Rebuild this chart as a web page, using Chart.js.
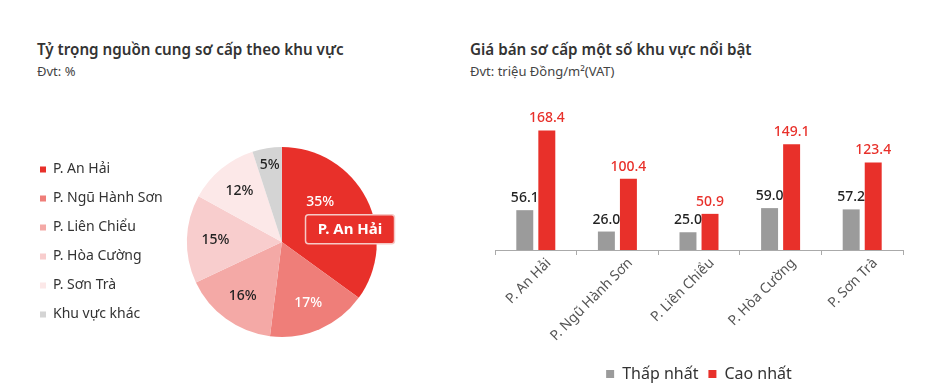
<!DOCTYPE html>
<html lang="vi">
<head>
<meta charset="utf-8">
<script src="https://cdn.jsdelivr.net/npm/chart.js@4.4.1/dist/chart.umd.min.js"></script>
<style>
    body { margin: 0; background: #fff; font-family: "Noto Sans", sans-serif; color: #333; }
    .khung { position: relative; width: 926px; height: 392px; overflow: hidden; }
    .tieude { position: absolute; font-size: 15.2px; font-weight: 600; color: #333; margin: 0; }
    .donvi { position: absolute; font-size: 13px; color: #444; margin: 0; }
    .hop { position: absolute; }
</style>
</head>
<body>
<div class="khung">
    <p class="tieude" style="left:37px; top:39px;">Tỷ trọng nguồn cung sơ cấp theo khu vực</p>
    <p class="donvi" style="left:37px; top:62px;">Đvt: %</p>
    <p class="tieude" style="left:470px; top:39px;">Giá bán sơ cấp một số khu vực nổi bật</p>
    <p class="donvi" style="left:470px; top:62px;">Đvt: triệu Đồng/m²(VAT)</p>

    <div class="hop" style="left:20px; top:142px; width:400px; height:205px;">
        <canvas id="bieuDoTron"></canvas>
    </div>
    <div class="hop" style="left:470px; top:90px; width:450px; height:302px;">
        <canvas id="bieuDoCot"></canvas>
    </div>
</div>

<script>
// --- du lieu bieu do tron ---
const khuVucTron = ["P. An Hải", "P. Ngũ Hành Sơn", "P. Liên Chiểu", "P. Hòa Cường", "P. Sơn Trà", "Khu vực khác"];
const tyTrong = [35, 17, 16, 15, 12, 5];
const mauTron = ["#E8302A", "#EF7E79", "#F4A9A6", "#F8CDCD", "#FCE8E8", "#D4D4D4"];
const mauChuTron = ["#ffffff", "#ffffff", "#222222", "#222222", "#222222", "#222222"];

// --- du lieu bieu do cot ---
const khuVucCot = ["P. An Hải", "P. Ngũ Hành Sơn", "P. Liên Chiểu", "P. Hòa Cường", "P. Sơn Trà"];
const giaThapNhat = [56.1, 26.0, 25.0, 59.0, 57.2];
const giaCaoNhat = [168.4, 100.4, 50.9, 149.1, 123.4];

const DO = "#E8302A";
const XAM = "#9B9B9B";
const FONT = "'Noto Sans', sans-serif";

// nhan % tren lat cat + hop chu "P. An Hải"
const nhanTron = {
    id: "nhanTron",
    afterDatasetsDraw(chart) {
        const ctx = chart.ctx;
        const meta = chart.getDatasetMeta(0);
        ctx.save();
        ctx.textAlign = "center";
        ctx.textBaseline = "middle";
        ctx.font = `500 14px ${FONT}`;
        meta.data.forEach((arc, i) => {
            const p = arc.getProps(["x", "y", "startAngle", "endAngle", "outerRadius"], true);
            let goc = (p.startAngle + p.endAngle) / 2;
            let kc = p.outerRadius * (tyTrong[i] < 8 ? 0.82 : 0.7);
            if (i === 0) {
                goc = p.startAngle + (p.endAngle - p.startAngle) * 0.35;
                kc = p.outerRadius * 0.58;
            }
            ctx.fillStyle = mauChuTron[i];
            ctx.fillText(tyTrong[i] + "%", p.x + Math.cos(goc) * kc, p.y + Math.sin(goc) * kc);
        });

        // hop chu noi bat cho lat cat lon nhat
        const a = meta.data[0].getProps(["x", "y", "startAngle", "endAngle", "outerRadius"], true);
        const gocHop = a.startAngle + (a.endAngle - a.startAngle) * 0.63;
        const cx = a.x + Math.cos(gocHop) * a.outerRadius * 0.73;
        const cy = a.y + Math.sin(gocHop) * a.outerRadius * 0.73;
        const w = 89, h = 29;
        ctx.beginPath();
        ctx.roundRect(cx - w / 2, cy - h / 2, w, h, 3);
        ctx.fillStyle = DO;
        ctx.fill();
        ctx.lineWidth = 1.5;
        ctx.strokeStyle = "#F6C9C6";
        ctx.stroke();
        ctx.fillStyle = "#ffffff";
        ctx.font = `700 15px ${FONT}`;
        ctx.fillText(khuVucTron[0], cx, cy + 1);
        ctx.restore();
    }
};

// so lieu tren dau cot
const nhanCot = {
    id: "nhanCot",
    afterDatasetsDraw(chart) {
        const ctx = chart.ctx;
        ctx.save();
        ctx.textAlign = "center";
        ctx.textBaseline = "bottom";
        ctx.font = `500 14px ${FONT}`;
        chart.data.datasets.forEach((ds, i) => {
            chart.getDatasetMeta(i).data.forEach((bar, j) => {
                ctx.fillStyle = i === 0 ? "#222222" : DO;
                ctx.fillText(ds.data[j].toFixed(1), bar.x, bar.y - 5);
            });
        });
        ctx.restore();
    }
};

new Chart(document.querySelector("#bieuDoTron"), {
    type: "pie",
    data: {
        labels: khuVucTron,
        datasets: [{
            data: tyTrong,
            backgroundColor: mauTron,
            borderWidth: 0,
        }],
    },
    options: {
        responsive: true,
        maintainAspectRatio: false,
        animation: false,
        layout: { padding: { left: 5, right: 29, top: 5, bottom: 10 } },
        plugins: {
            tooltip: { enabled: false },
            legend: {
                position: "left",
                labels: {
                    boxWidth: 6,
                    boxHeight: 6,
                    padding: 15,
                    color: "#333",
                    font: { family: FONT, size: 14 },
                },
            },
        },
    },
    plugins: [nhanTron],
});

new Chart(document.querySelector("#bieuDoCot"), {
    type: "bar",
    data: {
        labels: khuVucCot,
        datasets: [
            { label: "Thấp nhất", data: giaThapNhat, backgroundColor: XAM },
            { label: "Cao nhất", data: giaCaoNhat, backgroundColor: DO },
        ],
    },
    options: {
        responsive: true,
        maintainAspectRatio: false,
        animation: false,
        layout: { padding: { left: 25, right: 17, top: 18, bottom: 0 } },
        datasets: { bar: { categoryPercentage: 0.54, barPercentage: 0.77 } },
        scales: {
            x: {
                grid: { drawOnChartArea: false, drawTicks: true, tickLength: 5, color: "#aaa" },
                border: { color: "#aaa" },
                ticks: {
                    maxRotation: 45,
                    minRotation: 45,
                    padding: 0,
                    labelOffset: 13,
                    color: "#555",
                    font: { family: FONT, size: 14 },
                },
                afterFit(scale) { scale.height = 106; },
            },
            y: { display: false, min: 0, max: 200 },
        },
        plugins: {
            tooltip: { enabled: false },
            legend: {
                position: "bottom",
                labels: {
                    boxWidth: 8,
                    boxHeight: 8,
                    padding: 10,
                    color: "#333",
                    font: { family: FONT, size: 16 },
                },
            },
        },
    },
    plugins: [nhanCot],
});
</script>
</body>
</html>
